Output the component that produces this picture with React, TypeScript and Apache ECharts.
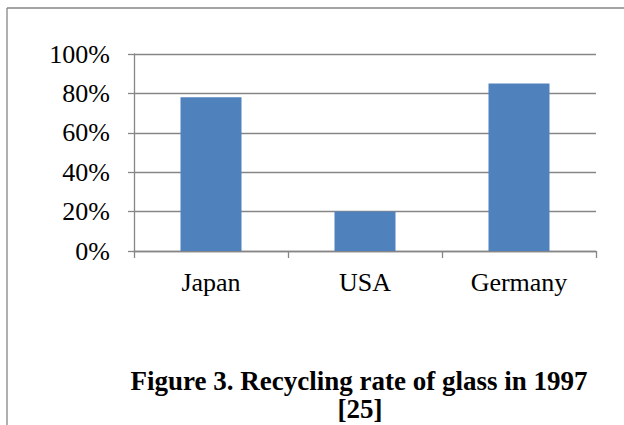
import React, { useEffect, useRef } from "react";
import * as echarts from "echarts";

const categories = ["Japan", "USA", "Germany"];
const recyclingRates = [0.78, 0.2, 0.85];
const captionLines = ["Figure 3. Recycling rate of glass in 1997", "[25]"];

const FONT = "'Liberation Serif', 'Times New Roman', serif";
const GRAY = "#868686";

export default function App() {
  const ref = useRef<HTMLDivElement>(null);
  useEffect(() => {
    document.body.style.margin = "0";
    const chart = echarts.init(ref.current!, null, { renderer: "svg" });
    chart.setOption({
      animation: false,
      backgroundColor: "#ffffff",
      grid: { left: 134, top: 54, width: 462, height: 197, containLabel: false },
      xAxis: {
        type: "category",
        data: categories,
        axisLine: { show: true, lineStyle: { color: GRAY, width: 1.3 } },
        axisTick: { show: true, length: 7, lineStyle: { color: GRAY, width: 1.3 } },
        axisLabel: { color: "#000", fontFamily: FONT, fontSize: 26, margin: 18 },
      },
      yAxis: {
        type: "value",
        min: 0,
        max: 1,
        interval: 0.2,
        axisLine: { show: true, lineStyle: { color: GRAY, width: 1.3 } },
        axisTick: { show: true, length: 6, lineStyle: { color: GRAY, width: 1.3 } },
        splitLine: { show: true, lineStyle: { color: GRAY, width: 1.3 } },
        axisLabel: {
          color: "#000",
          fontFamily: FONT,
          fontSize: 26,
          margin: 24,
          formatter: (v: number) => Math.round(v * 100) + "%",
        },
      },
      series: [
        {
          type: "bar",
          data: recyclingRates,
          barWidth: 61,
          itemStyle: { color: "#4F81BD" },
        },
      ],
      graphic: [
        { type: "line", shape: { x1: 7, y1: 8, x2: 624, y2: 8 }, style: { stroke: GRAY, lineWidth: 1.3 } },
        { type: "line", shape: { x1: 7, y1: 8, x2: 7, y2: 425 }, style: { stroke: GRAY, lineWidth: 1.3 } },
        {
          type: "text",
          x: 359,
          y: 381,
          style: {
            text: captionLines[0],
            font: `bold 27px ${FONT}`,
            fill: "#000",
            align: "center",
            verticalAlign: "middle",
          },
        },
        {
          type: "text",
          x: 360,
          y: 409,
          style: {
            text: captionLines[1],
            font: `bold 27px ${FONT}`,
            fill: "#000",
            align: "center",
            verticalAlign: "middle",
          },
        },
      ],
    });
    return () => chart.dispose();
  }, []);
  return <div ref={ref} style={{ width: 624, height: 425 }} />;
}
